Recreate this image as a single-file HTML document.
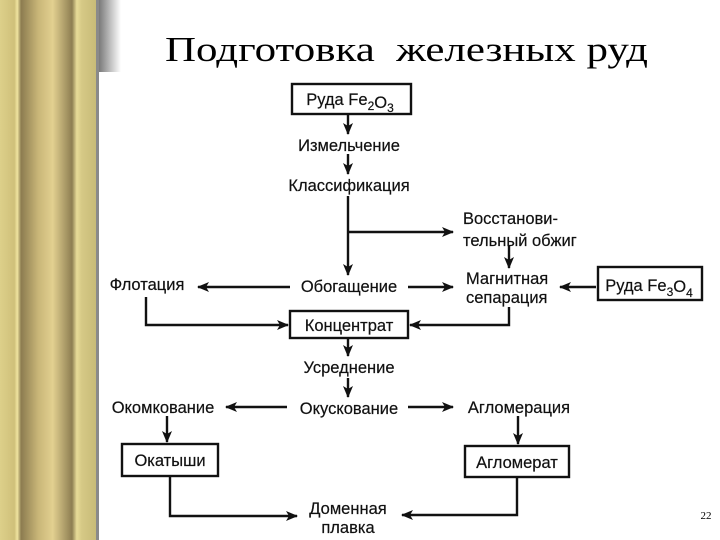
<!DOCTYPE html>
<html><head><meta charset="utf-8"><style>
html,body{margin:0;padding:0;background:#fff;width:720px;height:540px;overflow:hidden}
</style></head><body>
<svg width="720" height="540" viewBox="0 0 720 540" xmlns="http://www.w3.org/2000/svg">
<defs>
<linearGradient id="col" x1="0" x2="1">
<stop offset="0" stop-color="#ddd08a"/><stop offset="0.15" stop-color="#cfc07a"/>
<stop offset="0.18" stop-color="#f0e4a0"/><stop offset="0.22" stop-color="#8c7c50"/>
<stop offset="0.4" stop-color="#c9b678"/><stop offset="0.55" stop-color="#e2d090"/>
<stop offset="0.75" stop-color="#8e7e52"/><stop offset="0.8" stop-color="#e8dc98"/>
<stop offset="0.85" stop-color="#d6c986"/><stop offset="1" stop-color="#c8bb78"/>
</linearGradient>
<linearGradient id="sh" x1="0" x2="1"><stop offset="0" stop-color="#7a7a7a"/><stop offset="1" stop-color="#fff"/></linearGradient>
<marker id="a" markerWidth="12" markerHeight="10" refX="11" refY="5" orient="auto" markerUnits="userSpaceOnUse"><path d="M0,0 L12,5 L0,10 L3,5Z" fill="#111"/></marker>
</defs>
<rect x="0" y="0" width="96" height="540" fill="url(#col)"/>
<rect x="96" y="0" width="3" height="540" fill="#8a8a8a"/>
<rect x="99" y="0" width="22" height="72" fill="url(#sh)"/>
<text x="165" y="61" font-family="Liberation Serif, serif" font-size="35" fill="#000" textLength="483" lengthAdjust="spacingAndGlyphs" xml:space="preserve" style="white-space:pre">Подготовка  железных руд</text>
<g font-family="Liberation Sans, sans-serif" font-size="16.5" fill="#111" stroke="#111" stroke-width="0.2" text-anchor="middle">
<g fill="none" stroke="#111" stroke-width="2.4">
<rect x="292" y="84" width="119" height="30"/>
<rect x="290" y="311" width="118" height="27"/>
<rect x="122" y="444" width="96" height="32"/>
<rect x="465" y="446" width="104" height="31"/>
<rect x="598" y="267" width="104" height="33"/>
<line x1="348" y1="114" x2="348" y2="134" marker-end="url(#a)"/>
<line x1="348" y1="154" x2="348" y2="174" marker-end="url(#a)"/>
<line x1="348" y1="196" x2="348" y2="275" marker-end="url(#a)"/>
<line x1="348" y1="232" x2="453" y2="232" marker-end="url(#a)"/>
<line x1="509" y1="246" x2="509" y2="268" marker-end="url(#a)"/>
<line x1="290" y1="287" x2="198" y2="287" marker-end="url(#a)"/>
<line x1="408" y1="287" x2="453" y2="287" marker-end="url(#a)"/>
<line x1="596" y1="287" x2="560" y2="287" marker-end="url(#a)"/>
<polyline points="146,297 146,325 288,325" marker-end="url(#a)"/>
<polyline points="509,307 509,325 410,325" marker-end="url(#a)"/>
<line x1="348" y1="338" x2="348" y2="356" marker-end="url(#a)"/>
<line x1="348" y1="378" x2="348" y2="397" marker-end="url(#a)"/>
<line x1="287" y1="407" x2="226" y2="407" marker-end="url(#a)"/>
<line x1="408" y1="407" x2="453" y2="407" marker-end="url(#a)"/>
<line x1="167" y1="416" x2="167" y2="442" marker-end="url(#a)"/>
<line x1="518" y1="416" x2="518" y2="444" marker-end="url(#a)"/>
<polyline points="170,476 170,516 297,516" marker-end="url(#a)"/>
<polyline points="517,477 517,515 402,515" marker-end="url(#a)"/>
</g>
<text x="350" y="105">Руда Fe<tspan font-size="12" dy="5">2</tspan><tspan dy="-2">O</tspan><tspan font-size="12" dy="4">3</tspan></text>
<text x="349" y="151">Измельчение</text>
<text x="349" y="191">Классификация</text>
<text x="463" y="224" text-anchor="start">Восстанови-</text>
<text x="463" y="246" text-anchor="start">тельный обжиг</text>
<text x="349" y="292">Обогащение</text>
<text x="147" y="290">Флотация</text>
<text x="466" y="284" text-anchor="start">Магнитная</text>
<text x="466" y="303" text-anchor="start">сепарация</text>
<text x="649" y="291">Руда Fe<tspan font-size="12" dy="5">3</tspan><tspan dy="-4">O</tspan><tspan font-size="12" dy="5">4</tspan></text>
<text x="349" y="331">Концентрат</text>
<text x="349" y="373">Усреднение</text>
<text x="349" y="414">Окускование</text>
<text x="163" y="413">Окомкование</text>
<text x="519" y="413">Агломерация</text>
<text x="170" y="466">Окатыши</text>
<text x="517" y="468">Агломерат</text>
<text x="348" y="514">Доменная</text>
<text x="348" y="533">плавка</text>
</g>
<text x="706" y="519" font-family="Liberation Serif, serif" font-size="11" text-anchor="middle" fill="#000">22</text>
</svg>
</body></html>
